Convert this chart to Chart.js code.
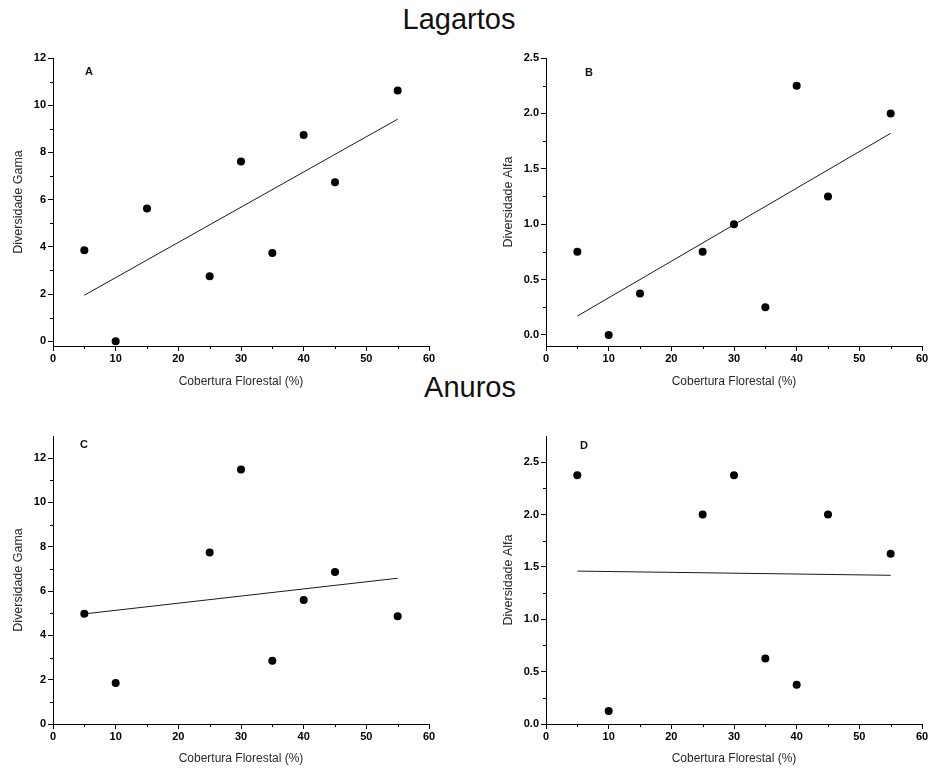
<!DOCTYPE html>
<html>
<head>
<meta charset="utf-8">
<title>Lagartos e Anuros</title>
<script src="https://cdn.jsdelivr.net/npm/chart.js@4.4.0/dist/chart.umd.min.js"></script>
<style>
  body { margin: 0; background: #fff; width: 930px; height: 772px; position: relative; overflow: hidden;
         font-family: "Liberation Sans", Arial, sans-serif; }
  canvas { position: absolute; }
  .group { position: absolute; width: 200px; text-align: center; font-size: 29px; line-height: 29px; color: #111; }
  .letter { position: absolute; width: 40px; text-align: center; font-size: 11px; line-height: 11px; font-weight: bold; color: #111; }
</style>
</head>
<body>

<div class="group" style="left:359px; top:5px">Lagartos</div>
<div class="group" style="left:370px; top:373px">Anuros</div>

<canvas id="chart-a" width="440" height="350" style="left:0; top:40px"></canvas>
<canvas id="chart-b" width="450" height="350" style="left:480px; top:40px"></canvas>
<canvas id="chart-c" width="440" height="352" style="left:0; top:420px"></canvas>
<canvas id="chart-d" width="450" height="352" style="left:480px; top:420px"></canvas>

<div class="letter" style="left:69px; top:66px">A</div>
<div class="letter" style="left:569px; top:67px">B</div>
<div class="letter" style="left:64px; top:439px">C</div>
<div class="letter" style="left:564px; top:440px">D</div>

<script>
    "use strict";

    // Cobertura florestal (%) de cada paisagem
    var coverLagartos = [5, 10, 15, 25, 30, 35, 40, 45, 55];
    var coverAnuros = [5, 10, 25, 30, 35, 40, 45, 55];

    // Lagartos
    var gamaLagartos = [3.86, 0, 5.62, 2.75, 7.62, 3.74, 8.74, 6.74, 10.62];
    var alfaLagartos = [0.75, 0, 0.375, 0.75, 1.0, 0.25, 2.25, 1.25, 2.0];

    // Anuros
    var gamaAnuros = [4.98, 1.85, 7.74, 11.49, 2.86, 5.6, 6.86, 4.86];
    var alfaAnuros = [2.375, 0.125, 2.0, 2.375, 0.625, 0.375, 2.0, 1.625];

    var trendX = [5, 55];
    var trendGamaLagartos = [1.95, 9.41];
    var trendAlfaLagartos = [0.17, 1.82];
    var trendGamaAnuros = [4.97, 6.58];
    var trendAlfaAnuros = [1.46, 1.42];

    // Tick labels
    var xTicks = [0, 10, 20, 30, 40, 50, 60];
    var yTicksGamaLagartos = [0, 2, 4, 6, 8, 10, 12];
    var yTicksAlfa = [0, 0.5, 1.0, 1.5, 2.0, 2.5];
    var yTicksGamaAnuros = [0, 2, 4, 6, 8, 10, 12];


    Chart.defaults.font.family = '"Liberation Sans", Arial, sans-serif';
    Chart.defaults.color = '#000';


    // Minor ticks (short marks between the labelled ones)
    var minorTicks = {
        id: 'minorTicks',
        afterDraw: function (chart, args, opts) {
            var ctx = chart.ctx;
            var area = chart.chartArea;
            var xs = chart.scales.x;
            var ys = chart.scales.y;
            var v, p;
            ctx.save();
            ctx.strokeStyle = '#000';
            ctx.lineWidth = 1;
            ctx.beginPath();
            for (v = opts.xStep; v < xs.max; v += 2 * opts.xStep) {
                p = Math.round(xs.getPixelForValue(v)) + 0.5;
                ctx.moveTo(p, area.bottom);
                ctx.lineTo(p, area.bottom + 3);
            }
            for (v = opts.yStep; v < ys.max; v += 2 * opts.yStep) {
                p = Math.round(ys.getPixelForValue(v)) + 0.5;
                ctx.moveTo(area.left, p);
                ctx.lineTo(area.left - 3, p);
            }
            ctx.stroke();
            ctx.restore();
        }
    };


    function makePanel(id, cover, values, trendY, yTicks, yMin, yMax, yStep, decimals, yTitle, box) {
        var ctx = document.getElementById(id).getContext('2d');
        return new Chart(ctx, {
            type: 'scatter',
            data: {
                datasets: [{
                    data: cover.map(function (x, i) { return {x: x, y: values[i]}; }),
                    backgroundColor: '#000',
                    borderWidth: 0,
                    pointRadius: 4,
                    clip: false
                },
                {
                    type: 'line',
                    data: trendX.map(function (x, i) { return {x: x, y: trendY[i]}; }),
                    borderColor: '#1a1a1a',
                    borderWidth: 1,
                    pointRadius: 0,
                    fill: false
                }]
            },
            options: {
                responsive: false,
                animation: false,
                devicePixelRatio: 1,
                layout: {padding: {top: box.top, right: box.right, left: 0, bottom: 0}},
                plugins: {
                    legend: {display: false},
                    tooltip: {enabled: false},
                    minorTicks: {xStep: 5, yStep: yStep}
                },
                scales: {
                    x: {
                        type: 'linear',
                        min: 0,
                        max: 60,
                        afterBuildTicks: function (s) { s.ticks = xTicks.map(function (v) { return {value: v}; }); },
                        afterFit: function (s) { s.height = box.xHeight; },
                        grid: {drawOnChartArea: false, drawTicks: true, tickLength: 5, tickColor: '#000'},
                        border: {color: '#000', width: 1},
                        ticks: {font: {size: 11, weight: 'bold'}, color: '#000', padding: 1, autoSkip: false, maxRotation: 0},
                        title: {
                            display: true,
                            text: 'Cobertura Florestal (%)',
                            font: {size: 12},
                            color: '#2a2a2a',
                            padding: {top: 0, bottom: box.titleBottom}
                        }
                    },
                    y: {
                        type: 'linear',
                        min: yMin,
                        max: yMax,
                        afterBuildTicks: function (s) { s.ticks = yTicks.map(function (v) { return {value: v}; }); },
                        afterFit: function (s) { s.width = box.yWidth; },
                        grid: {drawOnChartArea: false, drawTicks: true, tickLength: 5, tickColor: '#000'},
                        border: {color: '#000', width: 1},
                        ticks: {
                            font: {size: 11, weight: 'bold'},
                            color: '#000',
                            padding: 2,
                            autoSkip: false,
                            callback: function (v) { return v.toFixed(decimals); }
                        },
                        title: {
                            display: true,
                            text: yTitle,
                            font: {size: 12.5},
                            color: '#2a2a2a',
                            padding: {top: box.yTitle, bottom: 0}
                        }
                    }
                }
            },
            plugins: [minorTicks]
        });
    }


    // A - Lagartos, diversidade gama
    makePanel('chart-a', coverLagartos, gamaLagartos, trendGamaLagartos, yTicksGamaLagartos,
        -0.2, 12, 1, 0, 'Diversidade Gama',
        {top: 18, right: 11, xHeight: 44, titleBottom: 1, yWidth: 53, yTitle: 11});

    // B - Lagartos, diversidade alfa
    makePanel('chart-b', coverLagartos, alfaLagartos, trendAlfaLagartos, yTicksAlfa,
        -0.1, 2.5, 0.25, 1, 'Diversidade Alfa',
        {top: 18, right: 8, xHeight: 44, titleBottom: 1, yWidth: 66, yTitle: 21});

    // C - Anuros, diversidade gama
    makePanel('chart-c', coverAnuros, gamaAnuros, trendGamaAnuros, yTicksGamaAnuros,
        0, 13, 1, 0, 'Diversidade Gama',
        {top: 16, right: 11, xHeight: 48, titleBottom: 6, yWidth: 53, yTitle: 11});

    // D - Anuros, diversidade alfa
    makePanel('chart-d', coverAnuros, alfaAnuros, trendAlfaAnuros, yTicksAlfa,
        0, 2.75, 0.25, 1, 'Diversidade Alfa',
        {top: 16, right: 8, xHeight: 48, titleBottom: 6, yWidth: 66, yTitle: 21});
</script>
</body>
</html>
